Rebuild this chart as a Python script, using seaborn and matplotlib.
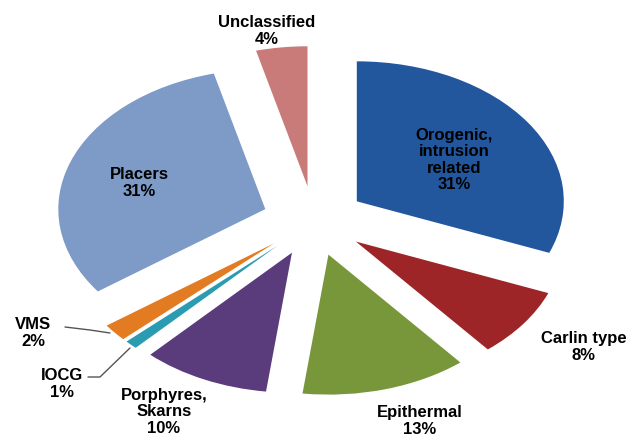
import matplotlib
matplotlib.use("Agg")
import matplotlib.pyplot as plt
import seaborn as sns

# gold deposit types, clockwise from 12 o'clock
types = ["Orogenic,\nintrusion\nrelated", "Carlin type", "Epithermal",
         "Porphyres,\nSkarns", "IOCG", "VMS", "Placers", "Unclassified"]
shares = [31, 8, 13, 10, 1, 2, 31, 4]
colors = ["#22579d", "#9e2527", "#78973b", "#5a3c7c",
          "#2b9bb2", "#e27b22", "#7e9ac7", "#c97b7a"]

sns.set_style("white")
plt.rcParams["font.family"] = ["Liberation Sans", "DejaVu Sans"]

W, H = 629, 437
fig = plt.figure(figsize=(W / 100, H / 100), dpi=100)
ax = fig.add_axes([0, 0, 1, 1])

# pie centre and radii in pixels (squashed, tilted look)
cx, cy, rx, ry = 314, 221, 207, 140


def to_data(px, py):
    return (px - cx) / rx, (cy - py) / ry


ax.pie(shares, colors=sns.color_palette(colors), startangle=90,
       counterclock=False, explode=[0.25] * len(shares),
       wedgeprops=dict(linewidth=0))

ax.set_aspect("auto")
x0, y0 = to_data(0, H)
x1, y1 = to_data(W, 0)
ax.set_xlim(x0, x1)
ax.set_ylim(y0, y1)
ax.axis("off")

# label positions (pixels)
label_pos = [(454, 160), (584, 347), (420, 421), (164, 412),
             (62, 384), (33, 333), (139, 183), (267, 31)]
for name, val, (px, py) in zip(types, shares, label_pos):
    x, y = to_data(px, py)
    ax.text(x, y, f"{name}\n{val}%", ha="center", va="center",
            fontsize=12, fontweight="bold", linespacing=1.12, color="black")

# leader lines for the thin slices
vx = [to_data(p, 0)[0] for p in (65, 90, 110)]
vy = [to_data(0, p)[1] for p in (327, 330, 333)]
ax.plot(vx, vy, color="#555555", lw=1)
ix = [to_data(p, 0)[0] for p in (88, 100, 130)]
iy = [to_data(0, p)[1] for p in (377, 377, 348)]
ax.plot(ix, iy, color="#555555", lw=1)

fig.savefig("out.png", dpi=100)
